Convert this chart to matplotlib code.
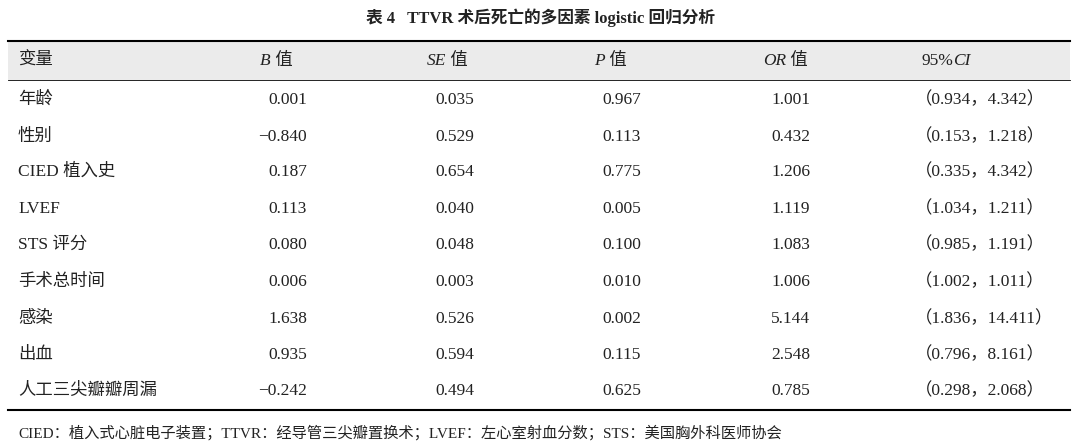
import matplotlib.pyplot as plt
from matplotlib.patches import Rectangle

plt.rcParams['font.family'] = ['Liberation Serif', 'Noto Sans CJK SC']

title = '表 4   TTVR 术后死亡的多因素 logistic 回归分析'
variables = ['年龄', '性别', 'CIED 植入史', 'LVEF', 'STS 评分', '手术总时间', '感染', '出血', '人工三尖瓣瓣周漏']
b_vals = ['0.001', '−0.840', '0.187', '0.113', '0.080', '0.006', '1.638', '0.935', '−0.242']
se_vals = ['0.035', '0.529', '0.654', '0.040', '0.048', '0.003', '0.526', '0.594', '0.494']
p_vals = ['0.967', '0.113', '0.775', '0.005', '0.100', '0.010', '0.002', '0.115', '0.625']
or_vals = ['1.001', '0.432', '1.206', '1.119', '1.083', '1.006', '5.144', '2.548', '0.785']
ci_vals = ['（0.934，4.342）', '（0.153，1.218）', '（0.335，4.342）', '（1.034，1.211）', '（0.985，1.191）',
           '（1.002，1.011）', '（1.836，14.411）', '（0.796，8.161）', '（0.298，2.068）']
footnote = 'CIED：植入式心脏电子装置；TTVR：经导管三尖瓣置换术；LVEF：左心室射血分数；STS：美国胸外科医师协会'

fig = plt.figure(figsize=(10.8, 4.48), dpi=100)
ax = fig.add_axes([0, 0, 1, 1])
ax.set_xlim(0, 1080)
ax.set_ylim(448, 0)
ax.axis('off')
renderer = fig.canvas.get_renderer()

fs = 12.5
col = '#222222'


def text_run(x, y, parts):
    # draw pieces one after another, each (string, italic?)
    for s, it in parts:
        t = ax.text(x, y, s, ha='left', va='center', fontsize=fs, color=col,
                    style='italic' if it else 'normal')
        bb = t.get_window_extent(renderer)
        x += bb.width * 1080 / fig.bbox.width


ax.text(540, 18, title, ha='center', va='center', fontsize=12, fontweight='bold', color=col)

ax.add_patch(Rectangle((8, 41), 1062, 39, facecolor='#ebebeb', edgecolor='none'))
ax.plot([8, 1070], [41, 41], color='black', lw=1.5)
ax.plot([8, 1070], [80, 80], color='black', lw=0.6)
ax.plot([8, 1070], [410, 410], color='black', lw=1.5)

hy = 61
ax.text(18, hy, '变量', ha='left', va='center', fontsize=fs, color=col)
for x, it in [(260, 'B'), (427, 'SE'), (594, 'P'), (763, 'OR')]:
    text_run(x, hy, [(it, True), (' 值', False)])
text_run(921, hy, [('95%', False), ('CI', True)])

row_y = [100, 137, 172, 209, 245, 282, 319, 355, 391]
for i, y in enumerate(row_y):
    ax.text(18, y, variables[i], ha='left', va='center', fontsize=fs, color=col)
    ax.text(307, y, b_vals[i], ha='right', va='center', fontsize=fs, color=col)
    ax.text(474, y, se_vals[i], ha='right', va='center', fontsize=fs, color=col)
    ax.text(641, y, p_vals[i], ha='right', va='center', fontsize=fs, color=col)
    ax.text(810, y, or_vals[i], ha='right', va='center', fontsize=fs, color=col)
    ax.text(915, y, ci_vals[i], ha='left', va='center', fontsize=fs, color=col)

ax.text(18, 433, footnote, ha='left', va='center', fontsize=11, color=col)

fig.savefig('out.png', dpi=100)
